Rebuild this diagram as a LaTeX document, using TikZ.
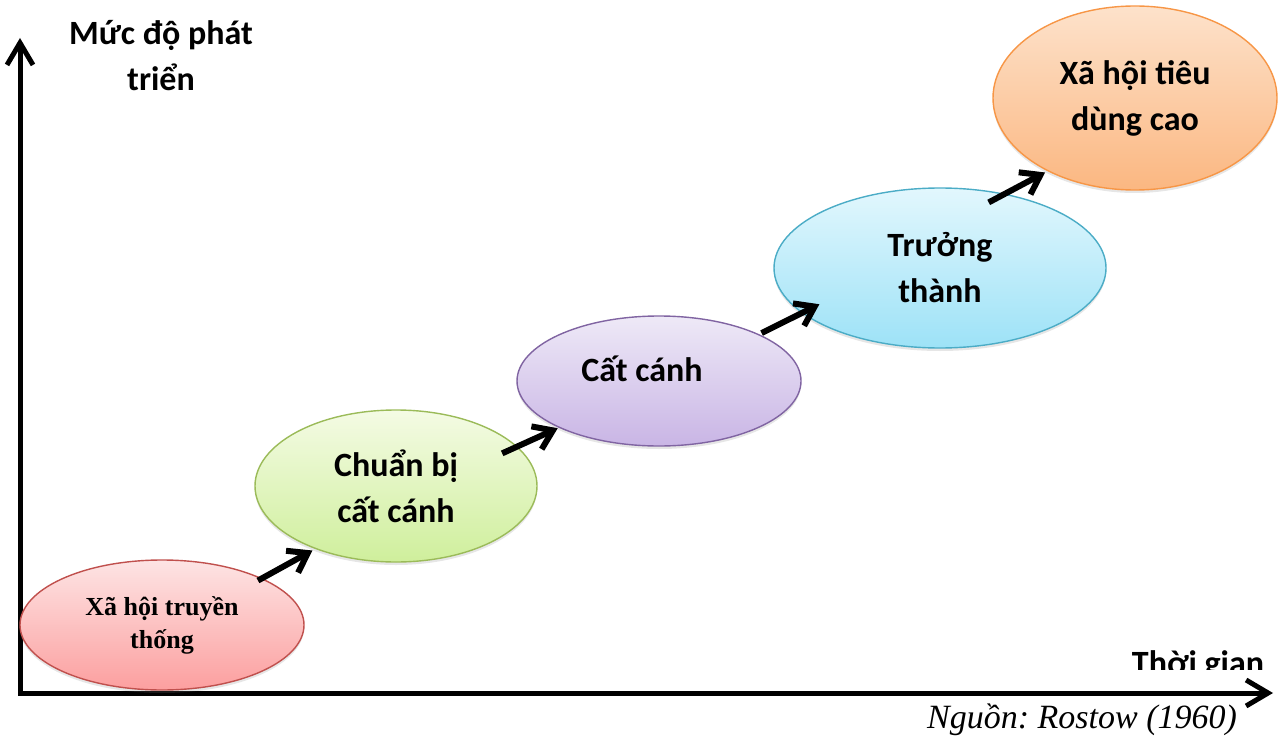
\documentclass[tikz,border=0pt]{standalone}
\usepackage{fontspec}
\setmainfont{Liberation Serif}
\newfontfamily\calibrifont{Carlito}
\usetikzlibrary{arrows.meta,shapes.geometric,shadows}

% stage colours: outline, upper and lower end of the fill
\definecolor{redline}{HTML}{C0504D}
\definecolor{redtop}{HTML}{FDE4E4}
\definecolor{redbot}{HTML}{FC9F9F}
\definecolor{greenline}{HTML}{9BBB59}
\definecolor{greentop}{HTML}{F4FBE4}
\definecolor{greenbot}{HTML}{CFEF9C}
\definecolor{purpleline}{HTML}{8064A2}
\definecolor{purpletop}{HTML}{EEE9F7}
\definecolor{purplebot}{HTML}{C9B5E5}
\definecolor{cyanline}{HTML}{4BACC6}
\definecolor{cyantop}{HTML}{E2F7FD}
\definecolor{cyanbot}{HTML}{9DE2F7}
\definecolor{orangeline}{HTML}{F79646}
\definecolor{orangetop}{HTML}{FDE2CB}
\definecolor{orangebot}{HTML}{FBB781}

\begin{document}
\frenchspacing
\begin{tikzpicture}[x=1pt,y=-1pt,
  stage/.style={ellipse, draw=#1line, line width=1.4pt,
    top color=#1top, bottom color=#1bot,
    inner sep=0pt, outer sep=0pt, align=center,
    drop shadow={opacity=0.2, shadow xshift=0pt, shadow yshift=-3pt}},
  sans/.style={font=\calibrifont\bfseries\fontsize{34}{46}\selectfont},
  serifb/.style={font=\bfseries\fontsize{26}{33}\selectfont},
  stepper/.style={line width=6pt, -{Straight Barb[length=18pt,width=25pt]}},
  axis/.style={line width=5pt,
    {Straight Barb[length=22pt,width=26pt]}-{Straight Barb[length=22pt,width=26pt]}},
]
\useasboundingbox (0,0) rectangle (1284,746);

% axes
\coordinate (origin) at (20,693);
\coordinate (ytop) at (20,38);
\coordinate (xend) at (1273,693);
\draw[axis] (ytop) -- (origin) -- (xend);

% the base of a two-line label is its last line
\node[sans, align=center, anchor=base] (ylabel) at (161,91) {Mức độ phát\\triển};
\begin{scope}
  \clip (1100,600) rectangle (1284,669);
  \node[sans, anchor=base] (xlabel) at (1198,674) {Thời gian};
\end{scope}
\node[font=\itshape\fontsize{34}{40}\selectfont, anchor=base] (source) at (1082,728)
  {Nguồn: Rostow (1960)};

% the five stages
\node[stage=red, minimum width=284pt, minimum height=130pt, serifb]
  (trad) at (162,625) {Xã hội truyền\\thống};
\node[stage=green, minimum width=282pt, minimum height=152pt, sans]
  (pre) at (396,486) {Chuẩn bị\\cất cánh};
\node[stage=purple, minimum width=284pt, minimum height=130pt,
  label={[sans, xshift=-17pt, yshift=12pt]center:Cất cánh}]
  (take) at (659,381) {};
\node[stage=cyan, minimum width=332pt, minimum height=160pt, sans]
  (mature) at (940,268) {Trưởng\\thành};
\node[stage=orange, minimum width=284pt, minimum height=184pt, sans]
  (mass) at (1135,98) {Xã hội tiêu\\dùng cao};

% steps between stages
\draw[stepper, shorten <=-4pt, shorten >=4pt] (trad.25) -- (pre.218);
\draw[stepper, shorten <=-16pt, shorten >=2pt] (pre.18) -- (take.205);
\draw[stepper, shorten <=3.5pt, shorten >=-19pt] (take.25) -- (mature.198);
\draw[stepper, shorten <=-17.5pt, shorten >=3.5pt] (mature.49) -- (mass.220);
\end{tikzpicture}
\end{document}
